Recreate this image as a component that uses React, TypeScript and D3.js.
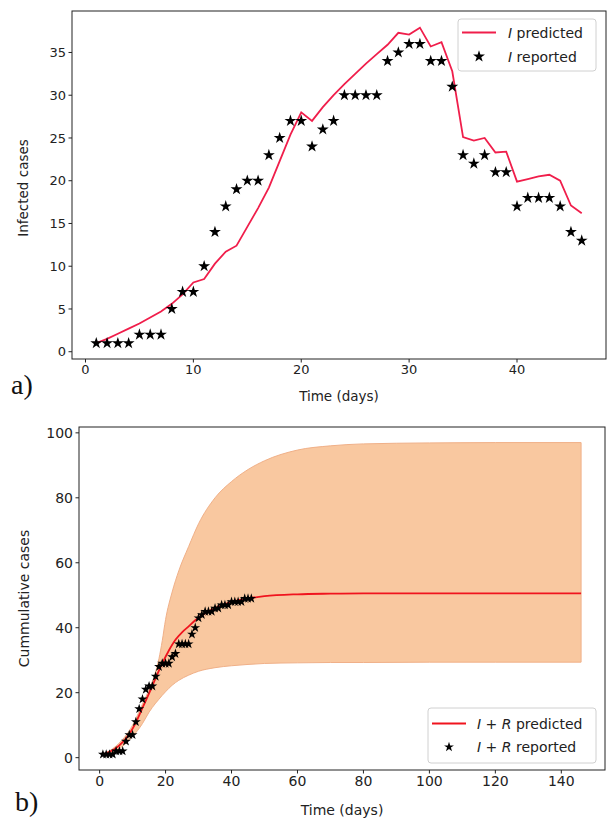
import React from 'react';
import * as d3 from 'd3';

// ---------- Panel a) data ----------
const daysA = [1,2,3,4,5,6,7,8,9,10,11,12,13,14,15,16,17,18,19,20,21,22,23,24,25,26,27,28,29,30,31,32,33,34,35,36,37,38,39,40,41,42,43,44,45,46];
const iReported = [1,1,1,1,2,2,2,5,7,7,10,14,17,19,20,20,23,25,27,27,24,26,27,30,30,30,30,34,35,36,36,34,34,31,23,22,23,21,21,17,18,18,18,17,14,13];
const iPredicted = [1.0,1.5,2.1,2.7,3.3,4.0,4.7,5.6,6.7,8.1,8.5,10.3,11.7,12.4,14.6,16.8,19.2,22.3,25.4,28.0,27.0,28.6,30.0,31.3,32.5,33.7,34.8,35.9,37.3,37.1,37.9,35.7,36.2,32.8,25.1,24.7,25.0,23.3,23.4,19.9,20.2,20.5,20.7,20.0,17.1,16.2];
const topXTicks = [0,10,20,30,40];
const topYTicks = [0,5,10,15,20,25,30,35];

// ---------- Panel b) data ----------
const cumReported = [1,1,1,1,2,2,2,5,7,7,11,15,18,21,22,22,25,28,29,29,29,31,32,35,35,35,35,38,40,43,44,45,45,45,46,46,47,47,47,48,48,48,48,49,49,49];
const cumPredDays = [1,3,5,7,9,11,13,15,17,19,21,23,25,27,29,31,34,37,40,45,50,60,70,80,100,120,146];
const cumPredVals = [1.0,1.8,3.0,4.8,7.3,10.8,15.3,19.8,24.5,29.0,33.0,36.3,38.6,40.4,42.3,43.8,45.6,46.9,47.9,49.0,49.7,50.3,50.5,50.6,50.6,50.6,50.6];
const bandDays = [1,5,10,13,15,17,18,19,20,22,24,27,30,35,40,45,50,60,70,80,100,120,146];
const bandUpper = [1.1,3.6,10.0,16.5,21.0,26.5,30.5,36.0,42.5,51.0,57.5,65.0,72.0,80.0,85.0,88.7,91.4,94.7,96.0,96.6,96.9,97.0,97.0];
const bandLower = [1.0,2.2,6.5,10.5,14.0,16.8,18.0,19.2,20.3,22.3,23.8,25.4,26.6,27.7,28.3,28.7,29.0,29.2,29.3,29.3,29.4,29.4,29.4];
const botXTicks = [0,20,40,60,80,100,120,140];
const botYTicks = [0,20,40,60,80,100];

const FONT = "'DejaVu Sans', sans-serif";
const RED_A = '#f01e4b';
const RED_B = '#f0141e';

const star = (size: number) => d3.symbol().type(d3.symbolStar).size(size)() as string;

function Axes({ x, y, left, right, top, bottom, xTicks, yTicks, fs }: any) {
  return (
    <g fontFamily={FONT} fontSize={fs} fill="#222">
      <rect x={left} y={top} width={right - left} height={bottom - top} fill="none" stroke="#222" strokeWidth={1} />
      {xTicks.map((t: number) => (
        <g key={'x' + t}>
          <line x1={x(t)} x2={x(t)} y1={bottom} y2={bottom + 3.5} stroke="#222" />
          <text x={x(t)} y={bottom + 5.5} dy="0.76em" textAnchor="middle">{t}</text>
        </g>
      ))}
      {yTicks.map((t: number) => (
        <g key={'y' + t}>
          <line x1={left - 3.5} x2={left} y1={y(t)} y2={y(t)} stroke="#222" />
          <text x={left - 6} y={y(t)} dy="0.36em" textAnchor="end">{t}</text>
        </g>
      ))}
    </g>
  );
}

export default function App() {
  // Panel a
  const aL = 72, aR = 606, aT = 11, aB = 359;
  const xA = d3.scaleLinear().domain([-1.25, 48.25]).range([aL, aR]);
  const yA = d3.scaleLinear().domain([-0.85, 39.85]).range([aB, aT]);
  const lineA = d3.line<number>().x((_, i) => xA(daysA[i])).y((v) => yA(v))(iPredicted) as string;

  // Panel b
  const bL = 79, bR = 605, bT = 427, bB = 770;
  const xB = d3.scaleLinear().domain([-6.25, 153.25]).range([bL, bR]);
  const yB = d3.scaleLinear().domain([-3.8, 101.8]).range([bB, bT]);
  const area = d3.area<number>()
    .x((_, i) => xB(bandDays[i]))
    .y0((_, i) => yB(bandLower[i]))
    .y1((_, i) => yB(bandUpper[i]))
    .curve(d3.curveMonotoneX)(bandDays) as string;
  const lineB = d3.line<number>().x((_, i) => xB(cumPredDays[i])).y((v) => yB(v)).curve(d3.curveMonotoneX)(cumPredVals) as string;

  const starA = star(44);
  const starB = star(30);

  return (
    <svg width={609} height={819} style={{ position: 'absolute', left: 0, top: 0, background: '#fff' }}>
      <rect x={0} y={0} width={609} height={819} fill="#fff" />
      <defs>
        <clipPath id="clipA"><rect x={aL} y={aT} width={aR - aL} height={aB - aT} /></clipPath>
        <clipPath id="clipB"><rect x={bL} y={bT} width={bR - bL} height={bB - bT} /></clipPath>
      </defs>
      {/* Panel a */}
      <g clipPath="url(#clipA)">
        <path d={lineA} fill="none" stroke={RED_A} strokeWidth={1.8} />
        {iReported.map((v, i) => (
          <path key={i} d={starA} transform={`translate(${xA(daysA[i])},${yA(v)})`} fill="#000" />
        ))}
      </g>
      <Axes x={xA} y={yA} left={aL} right={aR} top={aT} bottom={aB} xTicks={topXTicks} yTicks={topYTicks} fs={13} />
      <text x={(aL + aR) / 2} y={401} textAnchor="middle" fontFamily={FONT} fontSize={13.5} fill="#222">Time (days)</text>
      <text transform={`translate(28,${(aT + aB) / 2 + 3}) rotate(-90)`} textAnchor="middle" fontFamily={FONT} fontSize={13.5} fill="#222">Infected cases</text>
      {/* legend a */}
      <g fontFamily={FONT} fontSize={14} fill="#222">
        <rect x={458} y={19} width={138} height={52} rx={3} fill="#fff" fillOpacity={0.8} stroke="#d0d0d0" />
        <line x1={462} x2={496} y1={32.5} y2={32.5} stroke={RED_A} strokeWidth={1.8} />
        <text x={508} y={37.5}><tspan fontStyle="italic">I</tspan> predicted</text>
        <path d={starA} transform="translate(479,56.5)" fill="#000" />
        <text x={508} y={61.5}><tspan fontStyle="italic">I</tspan> reported</text>
      </g>
      <text x={11} y={394} fontFamily="'Liberation Serif', 'Times New Roman', serif" fontSize={28} fill="#111">a)</text>

      {/* Panel b */}
      <g clipPath="url(#clipB)">
        <path d={area} fill="#f9c8a0" stroke="#f0b088" strokeWidth={1} />
        <path d={lineB} fill="none" stroke={RED_B} strokeWidth={1.8} />
        {cumReported.map((v, i) => (
          <path key={i} d={starB} transform={`translate(${xB(daysA[i])},${yB(v)})`} fill="#000" />
        ))}
      </g>
      <Axes x={xB} y={yB} left={bL} right={bR} top={bT} bottom={bB} xTicks={botXTicks} yTicks={botYTicks} fs={14} />
      <text x={(bL + bR) / 2} y={815} textAnchor="middle" fontFamily={FONT} fontSize={14} fill="#222">Time (days)</text>
      <text transform={`translate(29,${(bT + bB) / 2}) rotate(-90)`} textAnchor="middle" fontFamily={FONT} fontSize={14} fill="#222">Cummulative cases</text>
      {/* legend b */}
      <g fontFamily={FONT} fontSize={14} fill="#222">
        <rect x={428} y={708} width={168} height={55} rx={3} fill="#fff" fillOpacity={0.8} stroke="#d0d0d0" />
        <line x1={432} x2={466} y1={723.5} y2={723.5} stroke={RED_B} strokeWidth={1.8} />
        <text x={477} y={728.5}><tspan fontStyle="italic">I</tspan> + <tspan fontStyle="italic">R</tspan> predicted</text>
        <path d={starB} transform="translate(449,747)" fill="#000" />
        <text x={477} y={752}><tspan fontStyle="italic">I</tspan> + <tspan fontStyle="italic">R</tspan> reported</text>
      </g>
      <text x={15} y={811} fontFamily="'Liberation Serif', 'Times New Roman', serif" fontSize={28} fill="#111">b)</text>
    </svg>
  );
}
